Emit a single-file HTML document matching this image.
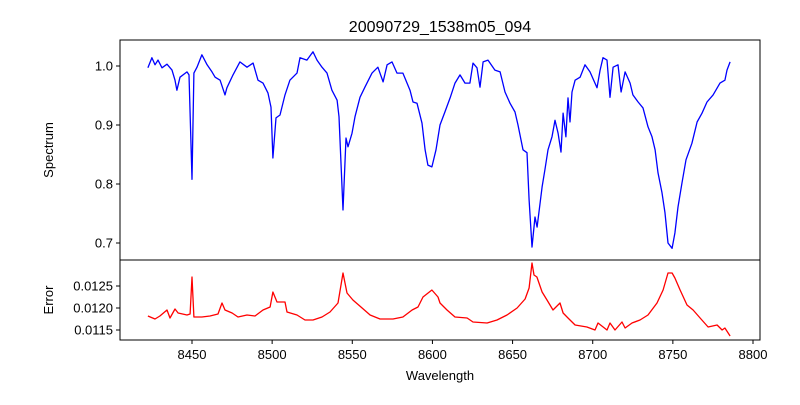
<!DOCTYPE html>
<html><head><meta charset="utf-8"><style>
body{margin:0;background:#fff;}
svg text{font-family:"Liberation Sans","DejaVu Sans",sans-serif;font-size:13px;fill:#000;}
</style></head><body>
<svg id="chart" width="800" height="400" xmlns="http://www.w3.org/2000/svg">
<rect width="800" height="400" fill="#fff"/>
<text x="440" y="32" text-anchor="middle" style="font-size:16px">20090729_1538m05_094</text>
<text transform="translate(53,150) rotate(-90)" text-anchor="middle">Spectrum</text>
<text transform="translate(53,300) rotate(-90)" text-anchor="middle">Error</text>
<text x="440" y="380" text-anchor="middle">Wavelength</text>
<g id="g"></g>
</svg>
<script>
const specWl=[8422.5,8425.0,8426.9,8428.8,8431.3,8434.4,8437.5,8439.4,8440.6,8442.5,8446.9,8448.1,8450.0,8451.2,8453.1,8456.2,8459.4,8462.5,8464.4,8467.5,8470.6,8471.8,8475.6,8479.9,8484.3,8488.1,8491.2,8494.3,8497.4,8499.3,8500.5,8502.4,8504.9,8508.0,8511.1,8515.5,8517.4,8521.7,8525.5,8528.0,8531.1,8534.2,8537.3,8540.5,8541.7,8544.2,8546.1,8547.3,8549.8,8551.7,8554.8,8557.9,8562.3,8566.0,8569.2,8571.7,8574.8,8577.9,8581.6,8586.0,8587.9,8590.4,8593.5,8595.4,8597.2,8599.7,8602.2,8604.7,8607.8,8611.0,8614.1,8617.2,8620.3,8623.4,8625.3,8627.8,8629.7,8631.6,8634.7,8639.0,8642.2,8645.3,8648.4,8651.5,8653.4,8656.5,8659.0,8660.3,8662.1,8664.0,8665.3,8668.4,8670.2,8672.1,8674.6,8676.5,8678.4,8680.2,8681.5,8683.3,8684.6,8685.8,8687.1,8689.0,8692.1,8695.2,8698.3,8702.7,8704.6,8706.4,8708.9,8710.8,8712.7,8715.8,8717.7,8720.2,8723.3,8725.1,8728.3,8731.4,8734.5,8737.0,8738.9,8740.7,8743.2,8745.1,8747.0,8749.5,8751.3,8753.2,8755.7,8758.2,8761.9,8765.1,8768.2,8771.3,8775.1,8779.4,8782.5,8783.8,8785.7];
const specVal=[0.997,1.014,1.002,1.010,0.997,1.003,0.993,0.976,0.959,0.981,0.990,0.985,0.808,0.988,0.998,1.019,1.002,0.990,0.981,0.976,0.951,0.963,0.985,1.007,0.998,1.005,0.976,0.971,0.954,0.930,0.844,0.912,0.917,0.951,0.976,0.988,1.014,1.010,1.024,1.010,0.998,0.988,0.959,0.942,0.914,0.756,0.878,0.863,0.886,0.914,0.947,0.964,0.988,0.998,0.973,1.002,1.007,0.988,0.988,0.959,0.939,0.937,0.903,0.858,0.832,0.829,0.858,0.900,0.922,0.946,0.971,0.985,0.971,0.971,1.005,0.997,0.964,1.007,1.010,0.993,0.990,0.956,0.937,0.922,0.900,0.858,0.853,0.773,0.693,0.744,0.727,0.795,0.824,0.858,0.880,0.908,0.886,0.854,0.920,0.880,0.946,0.905,0.956,0.976,0.981,1.002,0.990,0.963,0.993,1.014,1.010,0.947,0.998,1.002,0.956,0.990,0.971,0.951,0.939,0.929,0.897,0.880,0.858,0.819,0.785,0.751,0.700,0.691,0.717,0.761,0.802,0.841,0.869,0.905,0.920,0.939,0.951,0.971,0.976,0.993,1.007];
const errWl=[8422.5,8426.9,8430.0,8434.4,8436.3,8439.4,8441.3,8446.9,8448.8,8450.0,8451.2,8456.2,8461.2,8466.2,8468.7,8470.6,8475.0,8478.7,8484.3,8489.3,8494.3,8498.7,8500.5,8503.0,8506.2,8508.0,8509.3,8515.5,8520.5,8525.5,8531.1,8536.1,8541.1,8544.2,8546.7,8550.4,8556.1,8561.1,8567.3,8575.4,8581.6,8587.3,8591.0,8594.1,8599.7,8603.5,8604.7,8609.1,8614.1,8621.6,8625.3,8634.1,8640.3,8646.5,8652.8,8657.8,8660.3,8662.1,8663.4,8665.2,8668.4,8671.5,8675.2,8679.6,8681.5,8684.6,8689.0,8696.4,8701.4,8703.3,8708.9,8710.8,8713.9,8718.3,8720.2,8724.5,8729.5,8734.5,8740.1,8743.9,8747.0,8749.5,8751.3,8754.5,8758.8,8762.6,8767.0,8772.0,8777.6,8780.7,8782.5,8785.7];
const errVal=[0.011818,0.011750,0.011818,0.011955,0.011773,0.011977,0.011886,0.011841,0.011864,0.012705,0.011795,0.011795,0.011818,0.011864,0.012114,0.011955,0.011886,0.011795,0.011841,0.011818,0.011955,0.012023,0.012364,0.012136,0.012136,0.012136,0.011909,0.011841,0.011727,0.011727,0.011795,0.011909,0.012114,0.012795,0.012341,0.012182,0.012000,0.011841,0.011750,0.011750,0.011795,0.011955,0.012023,0.012250,0.012409,0.012250,0.012114,0.011955,0.011795,0.011773,0.011682,0.011659,0.011727,0.011841,0.012000,0.012205,0.012455,0.013023,0.012750,0.012705,0.012364,0.012182,0.011955,0.012114,0.011886,0.011773,0.011614,0.011568,0.011500,0.011659,0.011500,0.011659,0.011500,0.011682,0.011545,0.011659,0.011727,0.011841,0.012114,0.012409,0.012795,0.012795,0.012682,0.012409,0.012068,0.011955,0.011773,0.011568,0.011614,0.011500,0.011545,0.011364];
const xTicks=[8450,8500,8550,8600,8650,8700,8750,8800];
const specTicks=[0.7,0.8,0.9,1.0];
const specTickLabels=["0.7","0.8","0.9","1.0"];
const errTicks=[0.0115,0.0120,0.0125];
const errTickLabels=["0.0115","0.0120","0.0125"];

const NS="http://www.w3.org/2000/svg";
const g=document.getElementById('g');
const L=120,R=760;
const xS=v=>192+(v-8450)*(561/350);
const ySpec=v=>66+(1-v)*590;
const yErr=v=>286+(0.0125-v)*44000;
function mk(tag,attrs){const e=document.createElementNS(NS,tag);for(const k in attrs)e.setAttribute(k,attrs[k]);g.appendChild(e);return e;}

const p1=mk('polyline',{points:specWl.map((w,i)=>xS(w).toFixed(1)+','+ySpec(specVal[i]).toFixed(1)).join(' '),fill:'none',stroke:'#0000ff','stroke-width':1.3,'stroke-linejoin':'round'});


const p2=mk('polyline',{points:errWl.map((w,i)=>xS(w).toFixed(1)+','+yErr(errVal[i]).toFixed(1)).join(' '),fill:'none',stroke:'#ff0000','stroke-width':1.3,'stroke-linejoin':'round'});



const f1=mk('rect',{x:L,y:40,width:R-L,height:220,fill:'none',stroke:'#000','stroke-width':1});


const f2=mk('rect',{x:L,y:260,width:R-L,height:80,fill:'none',stroke:'#000','stroke-width':1});



specTicks.forEach((v,i)=>{const y=ySpec(v);
 const t=mk('line',{x1:L-4,x2:L,y1:y,y2:y,stroke:'#000'});
 
 
 const tx=mk('text',{x:L-7,y:y+4.5,'text-anchor':'end'});tx.textContent=specTickLabels[i];
 
 
});
errTicks.forEach((v,i)=>{const y=yErr(v);
 const t=mk('line',{x1:L-4,x2:L,y1:y,y2:y,stroke:'#000'});
 
 
 const tx=mk('text',{x:L-7,y:y+4.5,'text-anchor':'end'});tx.textContent=errTickLabels[i];
 
 
});
xTicks.forEach(v=>{const x=xS(v);
 const t=mk('line',{x1:x,x2:x,y1:340,y2:344,stroke:'#000'});
 
 
 const tx=mk('text',{x:x,y:359,'text-anchor':'middle'});tx.textContent=String(v);
 
 
});
</script>
</body></html>
